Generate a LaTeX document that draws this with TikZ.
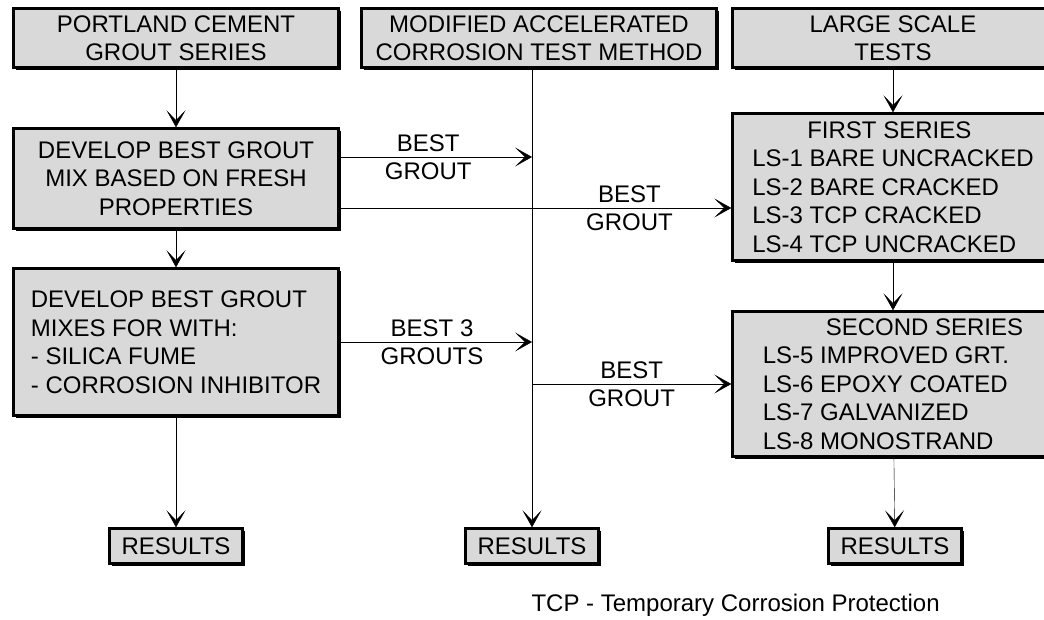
\documentclass[tikz,border=0pt]{standalone}
\usepackage{fontspec}
\setmainfont{Liberation Sans}
\usepackage{tikz}
\usetikzlibrary{positioning, arrows.meta, shadows}
\tikzset{->,
         >={Stealth[length=17pt, width=19pt, inset=10pt]},
         x=1pt, y=1pt,
         line width=0.8pt,
         every node/.style={font=\fontsize{24}{28.5}\selectfont},
         box/.style={draw, line width=2.5pt, fill=gray!30, align=center, inner sep=0pt,
                     drop shadow={shadow xshift=2.5pt, shadow yshift=-2.5pt, fill=black, opacity=1}},
         lbl/.style={align=center},
         }

\begin{document}
\begin{tikzpicture}
    \useasboundingbox (0,0) rectangle (1044,-620);
    \clip (0,0) rectangle (1044,-620);

    \node[box, minimum width=325pt, minimum height=59pt] (pc) at (176,-38) {PORTLAND CEMENT\\GROUT SERIES};
    \node[box, right of=pc, node distance=363pt, minimum width=355pt, minimum height=59pt] (act) {MODIFIED ACCELERATED\\CORROSION TEST METHOD};
    \node[box, right of=act, node distance=354pt, minimum width=321pt, minimum height=59pt] (lst) {LARGE SCALE\\TESTS};
    \node[box, below of=pc, node distance=140.5pt, minimum width=325pt, minimum height=100pt] (mix1) {DEVELOP BEST GROUT\\MIX BASED ON FRESH\\PROPERTIES};
    \node[box, below of=mix1, node distance=163.5pt, minimum width=325pt, minimum height=147pt, align=left] (mix2) {DEVELOP BEST GROUT\\MIXES FOR WITH:\\- SILICA FUME\\- CORROSION INHIBITOR};
    \node[box, below of=lst, node distance=149pt, minimum width=321pt, minimum height=147pt, align=left] (ser1) {\hspace*{55pt}FIRST SERIES\\LS-1 BARE UNCRACKED\\LS-2 BARE CRACKED\\LS-3 TCP CRACKED\\LS-4 TCP UNCRACKED};
    \node[box, below of=ser1, node distance=197pt, minimum width=321pt, minimum height=145pt, align=left] (ser2) {\hspace*{63pt}SECOND SERIES\\LS-5 IMPROVED GRT.\\LS-6 EPOXY COATED\\LS-7 GALVANIZED\\LS-8 MONOSTRAND};
    \node[box, below of=mix2, node distance=204pt, minimum width=133pt, minimum height=35pt] (res1) {RESULTS};
    \node[box, right of=res1, node distance=356pt, minimum width=133pt, minimum height=35pt] (res2) {RESULTS};
    \node[box, right of=res2, node distance=363pt, minimum width=133pt, minimum height=35pt] (res3) {RESULTS};
    \node[anchor=west] (tcp) at (528,-605) {TCP - Temporary Corrosion Protection};

    \coordinate (g1) at ([yshift=21.5pt]mix1.east);
    \coordinate (g2) at ([yshift=-29.5pt]mix1.east);

    \draw   (pc) edge (mix1)
            (mix1) edge (mix2)
            (mix2) edge (res1)
            (lst) edge (ser1)
            (ser1) edge (ser2)
            (ser2) edge (res3);
    \draw (act.south -| res2) -- (res2);
    \draw (g1) -- node[lbl, pos=.46] {BEST\\GROUT} (g1 -| res2);
    \draw (g2) -- node[lbl, pos=.74] {BEST\\GROUT} (g2 -| ser1.west);
    \draw (mix2.east) -- node[lbl, pos=.48] {BEST 3\\GROUTS} (mix2.east -| res2);
    \draw (ser2.west -| res2) -- node[lbl] {BEST\\GROUT} (ser2.west);
\end{tikzpicture}
\end{document}
